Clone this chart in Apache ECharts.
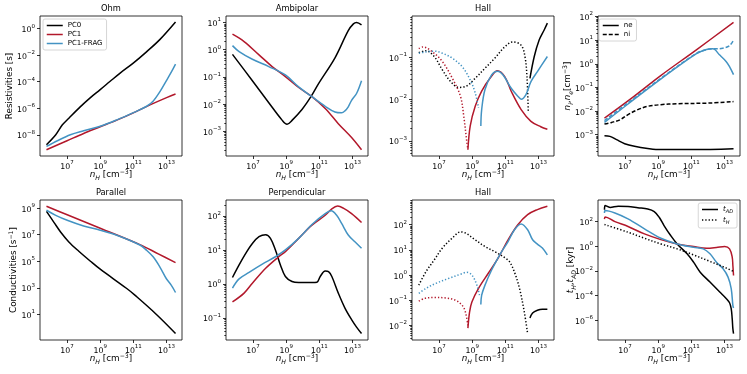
<!DOCTYPE html>
<html>
<head>
<meta charset="utf-8">
<script src="https://cdn.jsdelivr.net/npm/echarts@6/dist/echarts.min.js"></script>
<style>
  html, body { margin: 0; padding: 0; background: #fff; }
  #chart { width: 747px; height: 374px; }
</style>
</head>
<body>
<div id="chart"></div>
<script>
// Eight log-log panels. Every point is stored as [log10 nH, log10 value],
// read off the reference figure; the axes are linear in those exponents.

// ── Data ────────────────────────────────────────────────────────────────
const xTickExp = [7, 9, 11, 13];

// Ohm resistivity [s]
const ohmPC0  = [[5.76,-8.75],[6.32,-8.0],[6.72,-7.25],[7.11,-6.75],[7.81,-5.88],[8.41,-5.2],[9.0,-4.6],[9.6,-3.97],[10.2,-3.35],[10.99,-2.6],[11.79,-1.75],[12.59,-0.83],[13.54,0.5]];
const ohmPC1  = [[5.76,-9.13],[7.0,-8.45],[8.0,-7.9],[9.0,-7.4],[10.0,-6.9],[11.0,-6.35],[12.0,-5.75],[13.0,-5.2],[13.54,-4.93]];
const ohmFrag = [[5.76,-8.88],[6.42,-8.45],[7.2,-8.0],[8.0,-7.7],[9.0,-7.36],[10.0,-6.88],[11.0,-6.33],[11.8,-5.85],[12.2,-5.45],[12.6,-4.75],[13.0,-3.9],[13.3,-3.25],[13.54,-2.68]];

// Ambipolar resistivity
const ambiPC0  = [[5.76,-0.17],[6.96,-1.14],[7.95,-1.95],[8.75,-2.59],[9.05,-2.74],[9.35,-2.6],[9.95,-2.2],[10.51,-1.71],[10.95,-1.25],[11.94,-0.3],[12.74,0.7],[13.05,0.95],[13.24,1.0],[13.54,0.91]];
const ambiPC1  = [[5.76,0.57],[6.46,0.3],[7.36,-0.19],[8.15,-0.62],[8.95,-0.99],[9.75,-1.39],[10.51,-1.71],[11.35,-2.16],[12.14,-2.72],[12.94,-3.23],[13.54,-3.68]];
const ambiFrag = [[5.76,0.15],[6.16,-0.07],[6.96,-0.35],[7.95,-0.62],[8.95,-0.93],[9.75,-1.37],[10.51,-1.71],[11.35,-2.08],[11.94,-2.29],[12.34,-2.32],[12.54,-2.25],[12.74,-2.1],[12.94,-1.86],[13.24,-1.61],[13.54,-1.14]];

// Hall resistivity: negative part (dotted, |value|) and positive part (solid)
const hallPC0Neg  = [[5.78,-0.89],[6.21,-0.84],[6.71,-0.98],[7.2,-1.3],[7.7,-1.58],[8.19,-1.72],[8.68,-1.68],[9.18,-1.5],[9.77,-1.26],[10.36,-1.02],[10.96,-0.75],[11.45,-0.63],[11.95,-0.71],[12.18,-0.98],[12.3,-1.46],[12.38,-2.31]];
const hallPC0Pos  = [[12.48,-1.5],[12.74,-0.98],[13.03,-0.59],[13.33,-0.35],[13.53,-0.18]];
const hallPC1Neg  = [[5.78,-0.79],[6.02,-0.75],[6.61,-0.87],[7.2,-1.1],[7.8,-1.5],[8.29,-1.93],[8.49,-2.41],[8.68,-3.04],[8.74,-3.2]];
const hallPC1Pos  = [[8.74,-3.21],[8.88,-2.64],[9.18,-2.17],[9.57,-1.81],[10.07,-1.5],[10.52,-1.32],[10.96,-1.46],[11.35,-1.81],[11.95,-2.25],[12.54,-2.53],[13.13,-2.66],[13.53,-2.72]];
const hallFragNeg = [[5.78,-0.9],[6.21,-0.87],[6.71,-0.85],[7.2,-0.9],[7.8,-1.02],[8.39,-1.22],[8.88,-1.54],[9.18,-1.85],[9.38,-2.21]];
const hallFragPos = [[9.52,-2.64],[9.57,-2.25],[9.77,-1.77],[10.17,-1.42],[10.52,-1.33],[10.86,-1.42],[11.35,-1.74],[11.75,-1.93],[11.95,-2.0],[12.24,-1.89],[12.54,-1.58],[12.93,-1.34],[13.53,-0.98]];

// Electron (ne) and ion (ni) densities [cm^-3]
const dens0Ne    = [[5.76,-3.04],[6.09,-3.07],[6.49,-3.21],[6.98,-3.38],[7.57,-3.49],[8.36,-3.58],[9.15,-3.63],[11.12,-3.63],[13.54,-3.59]];
const dens0Ni    = [[5.76,-2.55],[6.19,-2.48],[6.69,-2.37],[7.18,-2.15],[7.77,-1.94],[8.36,-1.8],[9.15,-1.73],[10.13,-1.69],[12.1,-1.66],[13.54,-1.6]];
const dens1      = [[5.76,-2.3],[7.5,-1.4],[9.15,-0.5],[11.28,0.58],[13.54,1.75]];
const densFragNe = [[5.76,-2.48],[7.18,-1.7],[9.15,-0.65],[11.28,0.42],[11.91,0.6],[12.3,0.63],[12.69,0.38],[13.09,0.1],[13.29,-0.11],[13.54,-0.46]];
const densFragNi = [[5.76,-2.4],[7.18,-1.65],[9.15,-0.62],[11.28,0.43],[11.91,0.6],[12.3,0.64],[12.5,0.63],[12.89,0.66],[13.29,0.76],[13.54,1.0]];

// Parallel conductivity [s^-1]
const parPC0  = [[5.76,8.75],[6.22,7.9],[6.61,7.2],[7.11,6.45],[7.71,5.75],[8.41,5.0],[9.0,4.4],[10.6,2.95],[11.09,2.45],[12.39,1.0],[13.54,-0.43]];
const parPC1  = [[5.76,9.13],[7.01,8.49],[9.0,7.48],[11.39,6.25],[12.5,5.55],[13.54,4.9]];
const parFrag = [[5.76,8.83],[6.32,8.45],[7.01,8.08],[8.0,7.65],[9.0,7.33],[10.0,6.95],[11.39,6.22],[11.79,5.83],[12.19,5.33],[12.59,4.58],[12.98,3.7],[13.28,3.2],[13.54,2.65]];

// Perpendicular conductivity
const perpPC0  = [[5.76,0.19],[6.16,0.56],[6.56,0.9],[6.96,1.19],[7.36,1.39],[7.76,1.45],[8.05,1.34],[8.35,1.0],[8.65,0.56],[8.95,0.22],[9.35,0.07],[9.75,0.04],[10.55,0.04],[10.85,0.05],[11.05,0.22],[11.35,0.38],[11.55,0.36],[11.75,0.22],[12.14,-0.27],[12.54,-0.71],[12.94,-1.05],[13.24,-1.27],[13.54,-1.46]];
const perpPC1  = [[5.76,-0.53],[6.46,-0.27],[6.96,0.02],[7.76,0.46],[8.55,0.8],[8.95,0.95],[9.75,1.34],[10.55,1.73],[11.35,2.02],[11.75,2.21],[12.1,2.29],[12.44,2.23],[12.94,2.07],[13.54,1.81]];
const perpFrag = [[5.76,-0.12],[6.16,0.15],[6.76,0.34],[7.56,0.58],[8.35,0.8],[8.95,1.0],[9.75,1.34],[10.55,1.75],[11.35,2.07],[11.71,2.15],[12.04,2.02],[12.34,1.78],[12.74,1.44],[13.14,1.24],[13.54,1.05]];

// Hall conductivity: negative part (dotted) and positive part (solid)
const hall2PC0Neg  = [[5.78,-0.4],[6.21,0.13],[6.71,0.6],[7.2,1.07],[7.8,1.47],[8.29,1.71],[8.59,1.67],[9.18,1.4],[9.77,1.13],[10.36,0.93],[10.96,0.69],[11.25,0.53],[11.55,0.11],[11.85,-0.53],[12.14,-1.47],[12.34,-2.33]];
const hall2PC0Pos  = [[12.48,-1.71],[12.64,-1.51],[12.93,-1.4],[13.23,-1.36],[13.53,-1.36]];
const hall2PC1Neg  = [[5.78,-1.04],[6.12,-0.93],[6.71,-0.89],[7.4,-0.91],[7.99,-1.0],[8.39,-1.2],[8.59,-1.47],[8.74,-2.0]];
const hall2PC1Pos  = [[8.74,-2.11],[8.84,-1.47],[8.98,-1.07],[9.38,-0.53],[9.97,0.07],[10.56,0.67],[11.16,1.4],[11.75,2.0],[12.34,2.4],[12.93,2.6],[13.53,2.73]];
const hall2FragNeg = [[5.78,-0.73],[6.21,-0.53],[6.81,-0.33],[7.6,-0.13],[8.29,0.03],[8.68,0.11],[8.98,0.0],[9.28,-0.4],[9.44,-0.8]];
const hall2FragPos = [[9.52,-1.17],[9.57,-0.8],[9.77,-0.4],[10.17,0.2],[10.66,0.8],[11.16,1.33],[11.55,1.8],[11.95,2.03],[12.34,1.8],[12.64,1.4],[12.93,1.23],[13.23,1.07],[13.53,0.8]];

// Timescales [kyr]: ambipolar t_AD (solid) and Hall t_H (dotted)
const tAdPC0  = [[5.76,2.95],[5.8,3.3],[6.1,3.15],[6.59,3.24],[7.18,3.22],[7.77,3.12],[8.37,3.02],[8.76,2.81],[9.06,2.35],[9.35,1.68],[9.75,0.87],[10.14,0.19],[10.74,-0.61],[11.13,-1.29],[11.53,-2.1],[12.12,-2.9],[12.71,-3.71],[13.11,-4.25],[13.3,-4.58],[13.4,-5.06],[13.46,-5.87],[13.5,-6.68],[13.54,-7.08]];
const tAdPC1  = [[5.76,2.2],[5.8,2.38],[6.39,2.0],[7.18,1.6],[8.17,1.0],[9.16,0.54],[10.14,0.19],[11.13,-0.02],[11.92,-0.16],[12.51,-0.1],[13.01,-0.02],[13.3,-0.21],[13.46,-0.88],[13.5,-1.56],[13.54,-2.37]];
const tAdFrag = [[5.76,2.7],[5.8,2.9],[6.39,2.7],[7.18,2.22],[8.17,1.41],[9.16,0.65],[10.14,0.19],[11.13,-0.08],[11.72,-0.21],[12.12,-0.61],[12.51,-1.29],[12.91,-1.83],[13.21,-2.5],[13.4,-3.44],[13.5,-4.79],[13.54,-5.0]];
const tHallPC0 = [[5.76,1.76],[7.18,1.14],[8.17,0.65],[9.16,0.19],[10.14,-0.21],[11.13,-0.7],[12.12,-1.23],[13.11,-1.77],[13.54,-2.04]];

// ── Layout / style ──────────────────────────────────────────────────────
const FONT = 'DejaVu Sans';
const BLACK = '#000000', RED = '#b2182b', BLUE = '#4393c3';
const DASH = [4, 2], DOT = [1.3, 2];
const GRID_LEFT = [40, 226, 412, 598];
const GRID_TOP = [16, 200];
const GRID_W = 142, GRID_H = 140;
const X_RANGE = [5.37, 13.93];

const panels = [
  { title: 'Ohm',           y: [-9.6, 0.95],   ticks: [-8, -6, -4, -2, 0],   minor: false, name: 'Resistivities [s]', gap: 24 },
  { title: 'Ambipolar',     y: [-3.91, 1.24],  ticks: [-3, -2, -1, 0, 1],    minor: true },
  { title: 'Hall',          y: [-3.36, -0.01], ticks: [-3, -2, -1],          minor: true },
  { title: '',              y: [-3.9, 2.02],   ticks: [-3, -2, -1, 0, 1, 2], minor: true, name: '{i|n}{sb|i},{i|n}{sb|e}[cm{sp|\u22123}]', gap: 24 },
  { title: 'Parallel',      y: [-0.92, 9.6],   ticks: [1, 3, 5, 7, 9],       minor: false, name: 'Conductivities [s{sp|\u22121}]', gap: 20 },
  { title: 'Perpendicular', y: [-1.65, 2.47],  ticks: [-1, 0, 1, 2],         minor: true },
  { title: 'Hall',          y: [-2.58, 2.98],  ticks: [-2, -1, 0, 1, 2],     minor: true },
  { title: '',              y: [-7.6, 3.75],   ticks: [-6, -4, -2, 0, 2],    minor: false, name: '{i|t}{sb|H},{i|t}{sb|AD} [kyr]', gap: 21 },
];

// [panel, legend name, data, colour, dash]
const lines = [
  [0, 'PC0', ohmPC0, BLACK, 'solid'], [0, 'PC1', ohmPC1, RED, 'solid'], [0, 'PC1-FRAG', ohmFrag, BLUE, 'solid'],
  [1, 'PC0', ambiPC0, BLACK, 'solid'], [1, 'PC1', ambiPC1, RED, 'solid'], [1, 'PC1-FRAG', ambiFrag, BLUE, 'solid'],
  [2, 'PC0', hallPC0Neg, BLACK, DOT], [2, 'PC0', hallPC0Pos, BLACK, 'solid'],
  [2, 'PC1', hallPC1Neg, RED, DOT], [2, 'PC1', hallPC1Pos, RED, 'solid'],
  [2, 'PC1-FRAG', hallFragNeg, BLUE, DOT], [2, 'PC1-FRAG', hallFragPos, BLUE, 'solid'],
  [3, 'ne', dens0Ne, BLACK, 'solid'], [3, 'ni', dens0Ni, BLACK, DASH],
  [3, 'PC1', dens1, RED, 'solid'],
  [3, 'PC1-FRAG', densFragNi, BLUE, DASH], [3, 'PC1-FRAG', densFragNe, BLUE, 'solid'],
  [4, 'PC0', parPC0, BLACK, 'solid'], [4, 'PC1', parPC1, RED, 'solid'], [4, 'PC1-FRAG', parFrag, BLUE, 'solid'],
  [5, 'PC0', perpPC0, BLACK, 'solid'], [5, 'PC1', perpPC1, RED, 'solid'], [5, 'PC1-FRAG', perpFrag, BLUE, 'solid'],
  [6, 'PC0', hall2PC0Neg, BLACK, DOT], [6, 'PC0', hall2PC0Pos, BLACK, 'solid'],
  [6, 'PC1', hall2PC1Neg, RED, DOT], [6, 'PC1', hall2PC1Pos, RED, 'solid'],
  [6, 'PC1-FRAG', hall2FragNeg, BLUE, DOT], [6, 'PC1-FRAG', hall2FragPos, BLUE, 'solid'],
  [7, 'tAD', tAdPC0, BLACK, 'solid'], [7, 'PC1', tAdPC1, RED, 'solid'], [7, 'PC1-FRAG', tAdFrag, BLUE, 'solid'],
  [7, 'tH', tHallPC0, BLACK, DOT],
];

// ── Helpers ─────────────────────────────────────────────────────────────
const minus = (n) => String(n).replace('-', '\u2212');
const tickFmt = (v) => `{b|10}{s|${minus(Math.round(v))}}`;
const tickRich = {
  b: { fontFamily: FONT, fontSize: 7.8, color: '#000', lineHeight: 11, verticalAlign: 'bottom' },
  s: { fontFamily: FONT, fontSize: 5.5, color: '#000', lineHeight: 5, verticalAlign: 'top' },
};
const nameStyle = {
  fontFamily: FONT, fontSize: 8.8, color: '#000', lineHeight: 12,
  rich: {
    i:  { fontFamily: FONT, fontSize: 8.8, fontStyle: 'italic', color: '#000', lineHeight: 12 },
    sb: { fontFamily: FONT, fontSize: 6.2, fontStyle: 'italic', color: '#000', lineHeight: 8, verticalAlign: 'bottom' },
    sp: { fontFamily: FONT, fontSize: 6.2, color: '#000', lineHeight: 6, verticalAlign: 'top' },
  },
};
// matplotlib-style minor ticks (2..9 x 10^n) in exponent space
function minorTicks(lo, hi) {
  const out = [];
  for (let d = Math.floor(lo); d <= Math.ceil(hi); d++)
    for (let k = 2; k <= 9; k++) {
      const v = d + Math.log10(k);
      if (v > lo && v < hi) out.push(v);
    }
  return out;
}
const tickLine = { color: '#000', width: 0.8 };
const noLine = { show: false, onZero: false };

// ── Build option ────────────────────────────────────────────────────────
const grid = [], xAxis = [], yAxis = [], title = [], yIdx = [];
panels.forEach((p, i) => {
  const left = GRID_LEFT[i % 4], top = GRID_TOP[Math.floor(i / 4)];
  grid.push({ left, top, width: GRID_W, height: GRID_H, show: true,
    borderColor: '#000', borderWidth: 0.8, backgroundColor: 'transparent',
    containLabel: false, outerBoundsMode: 'none' });
  if (p.title) title.push({ text: p.title, left: left + GRID_W / 2, top: top - 11,
    textAlign: 'center', padding: 0,
    textStyle: { fontFamily: FONT, fontSize: 8.3, fontWeight: 'normal', color: '#000' } });

  xAxis.push({
    type: 'value', gridIndex: i, min: X_RANGE[0], max: X_RANGE[1], position: 'bottom',
    axisLine: noLine, splitLine: { show: false },
    axisTick: { customValues: xTickExp, length: 3, lineStyle: tickLine },
    axisLabel: { customValues: xTickExp, formatter: tickFmt, rich: tickRich, margin: 4 },
    name: '{i|n}{sb|H} [cm{sp|\u22123}]', nameLocation: 'middle', nameGap: 13,
    nameMoveOverlap: false, nameTextStyle: nameStyle,
  });

  yIdx.push(yAxis.length);
  yAxis.push({
    type: 'value', gridIndex: i, min: p.y[0], max: p.y[1], position: 'left',
    axisLine: noLine, splitLine: { show: false },
    axisTick: { customValues: p.ticks, length: 3, lineStyle: tickLine },
    axisLabel: { customValues: p.ticks, formatter: tickFmt, rich: tickRich, margin: 5 },
    name: p.name || '', nameLocation: 'middle', nameGap: p.gap || 20,
    nameMoveOverlap: false, nameTextStyle: nameStyle,
  });
  if (p.minor) yAxis.push({
    type: 'value', gridIndex: i, min: p.y[0], max: p.y[1], position: 'left',
    axisLine: noLine, splitLine: { show: false }, axisLabel: { show: false },
    axisTick: { customValues: minorTicks(p.y[0], p.y[1]), length: 1.7, lineStyle: tickLine },
  });
});

const series = lines.map(([pi, name, data, color, dash]) => ({
  type: 'line', name, data, xAxisIndex: pi, yAxisIndex: yIdx[pi],
  symbol: 'none', showSymbol: false, smooth: 0.35,
  lineStyle: { color, width: 1.5, type: dash, cap: 'butt', join: 'round' },
  itemStyle: { color }, emphasis: { disabled: true }, silent: true,
}));

const legendBase = {
  orient: 'vertical', itemWidth: 16, itemHeight: 8, itemGap: 2, padding: [3, 4, 3, 3],
  backgroundColor: 'rgba(255,255,255,0.8)', borderColor: '#cccccc', borderWidth: 0.8, borderRadius: 2,
  itemStyle: { opacity: 0 }, lineStyle: { width: 1.5 }, selectedMode: false,
  textStyle: { fontFamily: FONT, fontSize: 7, color: '#000' },
};
const legend = [
  { ...legendBase, left: 43, top: 19, data: ['PC0', 'PC1', 'PC1-FRAG'] },
  { ...legendBase, left: 599, top: 19, data: ['ne', 'ni'] },
  { ...legendBase, right: 10, top: 203, data: ['tAD', 'tH'],
    formatter: (n) => n === 'tAD' ? '{i|t}{s|AD}' : '{i|t}{s|H}',
    textStyle: { ...legendBase.textStyle, rich: {
      i: { fontFamily: FONT, fontSize: 7, fontStyle: 'italic', color: '#000', lineHeight: 10 },
      s: { fontFamily: FONT, fontSize: 5, fontStyle: 'italic', color: '#000', lineHeight: 6, verticalAlign: 'bottom' },
    } } },
];

const chart = echarts.init(document.getElementById('chart'), null, { renderer: 'canvas' });
chart.setOption({
  animation: false, backgroundColor: '#fff',
  textStyle: { fontFamily: FONT },
  title, grid, xAxis, yAxis, legend, series,
});
</script>
</body>
</html>
